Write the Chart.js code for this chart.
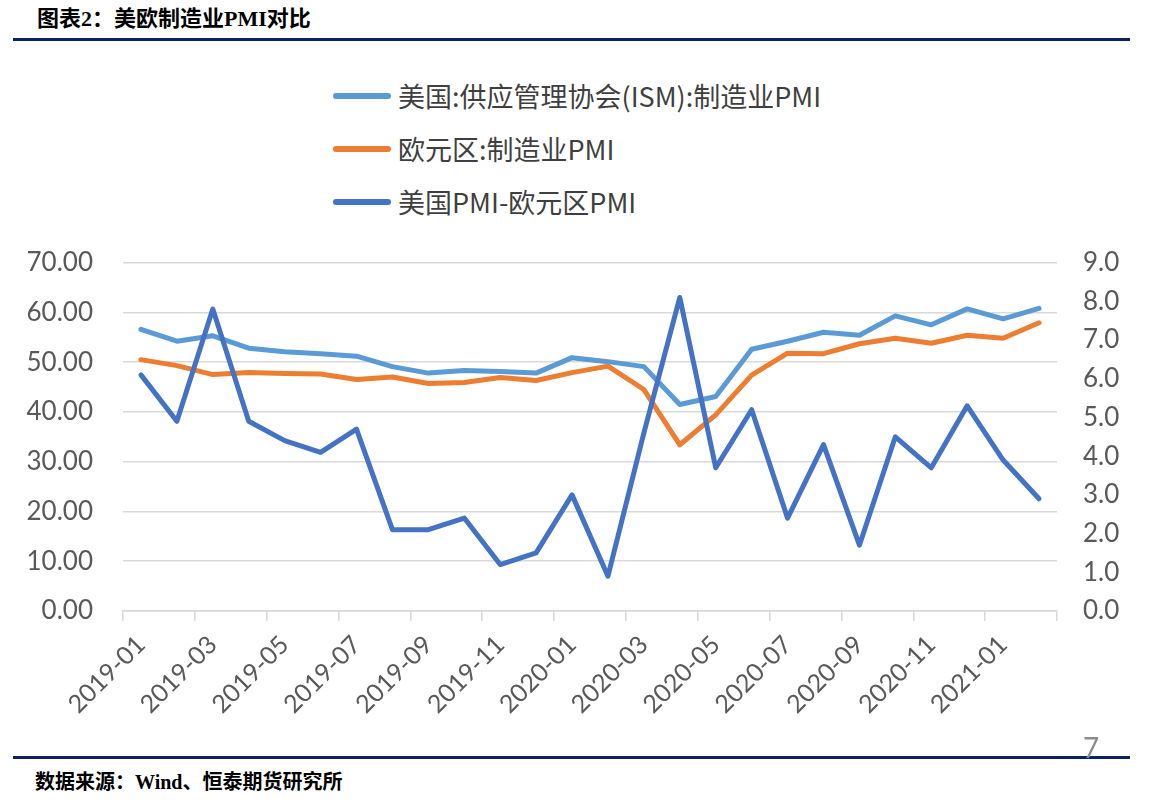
<!DOCTYPE html>
<html>
<head>
<meta charset="utf-8">
<script src="https://cdn.jsdelivr.net/npm/chart.js@4/dist/chart.umd.min.js"></script>
<style>
    body { margin: 0; width: 1167px; height: 803px; background: #fff; position: relative; overflow: hidden; }
    .title { position: absolute; left: 37px; top: 0; line-height: 30px; font: bold 22px "Liberation Serif", "Noto Sans CJK SC"; color: #000; }
    .rule { position: absolute; left: 13px; width: 1117px; height: 3px; background: #0b2161; }
    .footer { position: absolute; left: 35px; top: 766px; line-height: 28px; font: bold 20px "Liberation Serif", "Noto Sans CJK SC"; color: #000; }
    .page { position: absolute; left: 1083px; top: 730px; font: 28px Lato, sans-serif; color: #8c8c8c; }
    #legend { position: absolute; left: 333px; top: 69px; font: 27px "Noto Sans CJK SC", sans-serif; color: #3f3f3f; }
    #legend .item { height: 53px; display: flex; align-items: center; }
    #legend .swatch { width: 58px; height: 6px; border-radius: 3px; margin-right: 7px; }
    #wrap { position: absolute; left: 0; top: 217px; width: 1167px; height: 523px; }
</style>
</head>
<body>
<div class="title">图表2：美欧制造业PMI对比</div>
<div class="rule" style="top: 38px;"></div>
<div id="legend"></div>
<div id="wrap"><canvas id="pmiChart"></canvas></div>
<div class="rule" style="top: 756px;"></div>
<div class="page">7</div>
<div class="footer">数据来源：Wind、恒泰期货研究所</div>

<script>
const months = [
    '2019-01', '2019-02', '2019-03', '2019-04', '2019-05', '2019-06',
    '2019-07', '2019-08', '2019-09', '2019-10', '2019-11', '2019-12',
    '2020-01', '2020-02', '2020-03', '2020-04', '2020-05', '2020-06',
    '2020-07', '2020-08', '2020-09', '2020-10', '2020-11', '2020-12',
    '2021-01', '2021-02'
];

// 美国 ISM 制造业PMI
const usIsm = [
    56.6, 54.2, 55.3, 52.8, 52.1, 51.7, 51.2, 49.1, 47.8, 48.3, 48.1, 47.8,
    50.9, 50.1, 49.1, 41.5, 43.1, 52.6, 54.2, 56.0, 55.4, 59.3, 57.5, 60.7,
    58.7, 60.8
];

// 欧元区制造业PMI
const euroPmi = [
    50.5, 49.3, 47.5, 47.9, 47.7, 47.6, 46.5, 47.0, 45.7, 45.9, 46.9, 46.3,
    47.9, 49.2, 44.5, 33.4, 39.4, 47.4, 51.8, 51.7, 53.7, 54.8, 53.8, 55.4,
    54.8, 57.9
];

// 美国PMI-欧元区PMI (右轴)
const pmiGap = [
    6.1, 4.9, 7.8, 4.9, 4.4, 4.1, 4.7, 2.1, 2.1, 2.4, 1.2, 1.5,
    3.0, 0.9, 4.6, 8.1, 3.7, 5.2, 2.4, 4.3, 1.7, 4.5, 3.7, 5.3,
    3.9, 2.9
];

const leftTicks = [0, 10, 20, 30, 40, 50, 60, 70];
const rightTicks = [0, 1, 2, 3, 4, 5, 6, 7, 8, 9];

const tickFont = { family: 'Lato, sans-serif', size: 26 };
const tickColor = '#595959';
const gridColor = '#d9d9d9';

const datasets = [
    { label: '美国:供应管理协会(ISM):制造业PMI', data: usIsm, borderColor: '#5b9bd5', yAxisID: 'y', order: 2 },
    { label: '欧元区:制造业PMI', data: euroPmi, borderColor: '#ed7d31', yAxisID: 'y', order: 1 },
    { label: '美国PMI-欧元区PMI', data: pmiGap, borderColor: '#4472c4', yAxisID: 'y1', order: 0 }
].map(ds => Object.assign(ds, {
    backgroundColor: ds.borderColor,
    borderWidth: 5,
    pointRadius: 0,
    tension: 0,
    borderCapStyle: 'round',
    borderJoinStyle: 'round',
    fill: false
}));

const chart = new Chart(document.getElementById('pmiChart'), {
    type: 'line',
    data: { labels: months, datasets: datasets },
    options: {
        responsive: true,
        maintainAspectRatio: false,
        animation: false,
        layout: { padding: 0 },
        plugins: { legend: { display: false }, tooltip: { enabled: false } },
        scales: {
            x: {
                offset: true,
                grid: {
                    offset: true,
                    drawOnChartArea: false,
                    drawTicks: true,
                    tickLength: 10,
                    lineWidth: 1.5,
                    color: (c) => (c.type === 'tick' && c.index % 2 === 1) ? 'rgba(0,0,0,0)' : gridColor
                },
                border: { display: true, color: gridColor, width: 1.5 },
                ticks: {
                    autoSkip: false,
                    minRotation: 45,
                    maxRotation: 45,
                    padding: 9,
                    color: tickColor,
                    font: { family: 'Lato, sans-serif', size: 25 },
                    callback: function(value, index) { return index % 2 === 0 ? months[index] : ''; }
                },
                afterFit: (scale) => { scale.height = 129; }
            },
            y: {
                position: 'left',
                min: leftTicks[0],
                max: leftTicks[leftTicks.length - 1],
                afterBuildTicks: (scale) => { scale.ticks = leftTicks.map(v => ({ value: v })); },
                grid: { color: gridColor, lineWidth: 1.5, drawTicks: false },
                border: { display: false },
                ticks: { padding: 30, color: tickColor, font: tickFont, callback: (v) => v.toFixed(2) },
                afterFit: (scale) => { scale.width = 123; }
            },
            y1: {
                position: 'right',
                min: rightTicks[0],
                max: rightTicks[rightTicks.length - 1],
                afterBuildTicks: (scale) => { scale.ticks = rightTicks.map(v => ({ value: v })); },
                grid: { drawOnChartArea: false, drawTicks: false },
                border: { display: false },
                ticks: { padding: 26, color: tickColor, font: tickFont, callback: (v) => v.toFixed(1) },
                afterFit: (scale) => { scale.width = 110; }
            }
        }
    }
});

// legend stacked vertically above the plot, built from the datasets
const legendBox = document.getElementById('legend');
chart.data.datasets.forEach(ds => {
    const row = document.createElement('div');
    row.className = 'item';
    const sw = document.createElement('span');
    sw.className = 'swatch';
    sw.style.background = ds.borderColor;
    row.appendChild(sw);
    row.appendChild(document.createTextNode(ds.label));
    legendBox.appendChild(row);
});
</script>
</body>
</html>
